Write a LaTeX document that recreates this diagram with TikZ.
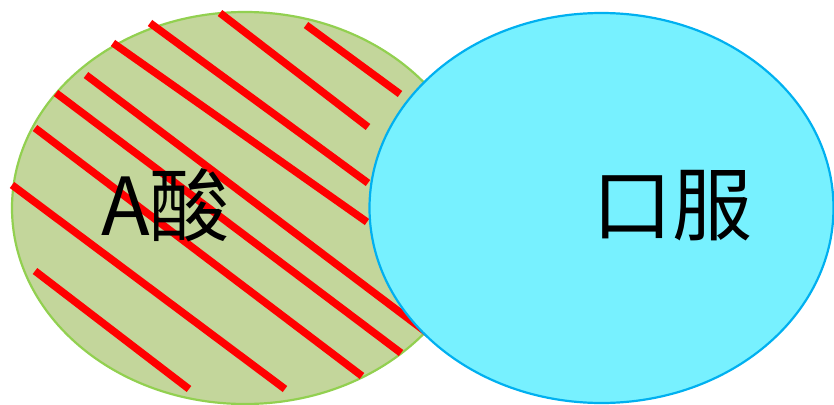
\documentclass[tikz,border=0pt]{standalone}
\usepackage{fontspec}
\usepackage{xcolor}
\usepackage{tikz}
\newfontfamily\cjk{Noto Sans CJK SC}
\definecolor{acidgreen}{HTML}{C3D69B}
\definecolor{acidedge}{HTML}{92D050}
\definecolor{oralcyan}{HTML}{77F1FF}
\definecolor{oraledge}{HTML}{00B0F0}
\definecolor{hatchred}{HTML}{FF0000}

\begin{document}
\begin{tikzpicture}[x=1pt, y=-1pt,
    hatch/.style={draw=hatchred, line width=7.5pt},
    setlabel/.style={font=\cjk\fontsize{80}{96}\selectfont, text=black, inner sep=0pt}]
    \useasboundingbox (0,0) rectangle (834,404);

    % Left set
    \filldraw[fill=acidgreen, draw=acidedge, line width=2.2pt] (245,208) ellipse [x radius=233, y radius=196];

    % Red hatching
    \draw[hatch] (306,25) -- (400,94);
    \draw[hatch] (220,13) -- (368,127);
    \draw[hatch] (150,23) -- (368,183);
    \draw[hatch] (113,43) -- (367,222);
    \draw[hatch] (86,75) -- (430,335);
    \draw[hatch] (56,93) -- (401,353);
    \draw[hatch] (35,128) -- (362,376);
    \draw[hatch] (12,185) -- (285,389);
    \draw[hatch] (35,271) -- (189,389);

    % Right set
    \filldraw[fill=oralcyan, draw=oraledge, line width=2.2pt] (601.5,208) ellipse [x radius=232, y radius=195];

    \node[setlabel] (acid) at (165.5,205) {A酸};
    \node[setlabel] (oral) at (672.5,206) {口服};
\end{tikzpicture}
\end{document}
